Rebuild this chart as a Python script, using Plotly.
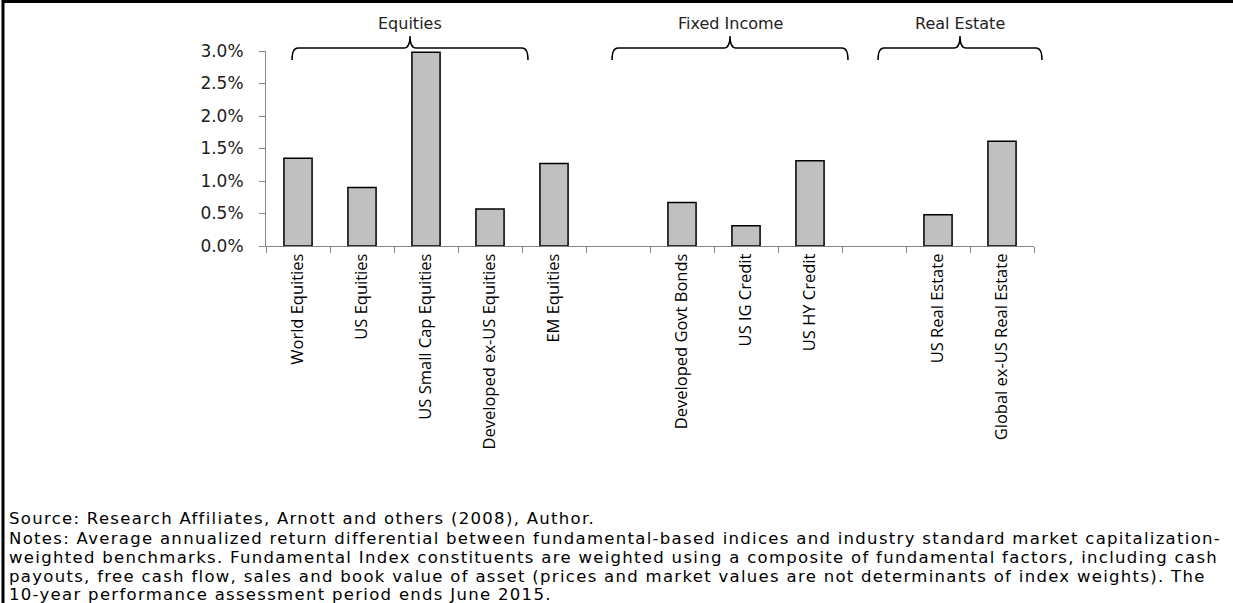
import plotly.graph_objects as go

categories = ["World Equities", "US Equities", "US Small Cap Equities",
              "Developed ex-US Equities", "EM Equities", " ",
              "Developed Govt Bonds", "US IG Credit", "US HY Credit", "  ",
              "US Real Estate", "Global ex-US Real Estate"]
values = [1.35, 0.90, 2.98, 0.57, 1.27, None, 0.67, 0.31, 1.31, None, 0.48, 1.61]
y_ticks = [0.0, 0.5, 1.0, 1.5, 2.0, 2.5, 3.0]
groups = ["Equities", "Fixed Income", "Real Estate"]
source_lines = [
    "Source: Research Affiliates, Arnott and others (2008), Author.",
    "Notes: Average annualized return differential between fundamental-based indices and industry standard market capitalization-",
    "weighted benchmarks. Fundamental Index constituents are weighted using a composite of fundamental factors, including cash",
    "payouts, free cash flow, sales and book value of asset (prices and market values are not determinants of index weights). The",
    "10-year performance assessment period ends June 2015.",
]

W, H = 1233, 603
L, R, T, B = 266, 199, 51, 357
PW = W - L - R
PH = H - T - B

def px(x):
    return (x - L) / PW

def py(y):
    return (H - B - y) / PH

fig = go.Figure()
fig.add_trace(go.Bar(
    x=categories, y=values,
    marker=dict(color="#c0c0c0", line=dict(color="#000000", width=1.5)),
    showlegend=False, hoverinfo="skip",
))

# bracket spans in pixels (layout)
spans = [(292, 528), (612, 848), (878, 1042)]
y_flat, y_end, y_cusp, y_label = 48, 60, 36, 23
shapes = []
annotations = []
for (x0, x1), name in zip(spans, groups):
    xc = (x0 + x1) / 2
    r = 6
    path = (
        f"M{px(x0)},{py(y_end)} "
        f"Q{px(x0)},{py(y_flat)} {px(x0 + r)},{py(y_flat)} "
        f"L{px(xc - r)},{py(y_flat)} "
        f"Q{px(xc)},{py(y_flat)} {px(xc)},{py(y_cusp)} "
        f"Q{px(xc)},{py(y_flat)} {px(xc + r)},{py(y_flat)} "
        f"L{px(x1 - r)},{py(y_flat)} "
        f"Q{px(x1)},{py(y_flat)} {px(x1)},{py(y_end)}"
    )
    shapes.append(dict(type="path", xref="paper", yref="paper", path=path,
                       line=dict(color="#000000", width=1.5)))
    annotations.append(dict(text=name, xref="paper", yref="paper",
                            x=px(xc), y=py(y_label), showarrow=False,
                            xanchor="center", yanchor="middle",
                            font=dict(family="DejaVu Sans", size=16, color="#222222")))

# outer frame (top and left visible)
shapes.append(dict(type="rect", xref="paper", yref="paper",
                   x0=px(3), x1=px(W + 20), y0=py(H + 20), y1=py(1.5),
                   line=dict(color="#000000", width=3)))

line_y = [518, 538, 557, 576, 594]
for txt, yy in zip(source_lines, line_y):
    annotations.append(dict(text=f"<span style='letter-spacing:1.3px'>{txt}</span>",
                            xref="paper", yref="paper",
                            x=px(7), y=py(yy), showarrow=False, xanchor="left",
                            yanchor="middle", align="left",
                            font=dict(family="DejaVu Sans", size=16.5, color="#000000")))

fig.update_layout(
    width=W, height=H,
    margin=dict(l=L, r=R, t=T, b=B),
    paper_bgcolor="#ffffff", plot_bgcolor="#ffffff",
    bargap=0.56,
    shapes=shapes, annotations=annotations,
)
fig.update_xaxes(
    type="category", tickangle=-90, tickson="boundaries",
    ticks="outside", ticklen=6, tickcolor="#868686",
    showline=True, linecolor="#868686", linewidth=1,
    showgrid=False, zeroline=False,
    tickfont=dict(family="Open Sans", size=16.5, color="#000000"),
    range=[-0.5, len(categories) - 0.5],
)
fig.update_yaxes(
    range=[0, 3.0], tickvals=y_ticks, ticktext=[f"{v:.1f}%" for v in y_ticks],
    ticks="outside", ticklen=6, tickcolor="#868686",
    showline=True, linecolor="#868686", linewidth=1,
    showgrid=False, zeroline=False,
    tickfont=dict(family="DejaVu Sans", size=17, color="#222222"),
    ticklabelstandoff=12,
)

fig.write_html("out.html", config={"displayModeBar": False},
               post_script="document.body.style.margin='0';document.body.style.overflow='hidden';")
